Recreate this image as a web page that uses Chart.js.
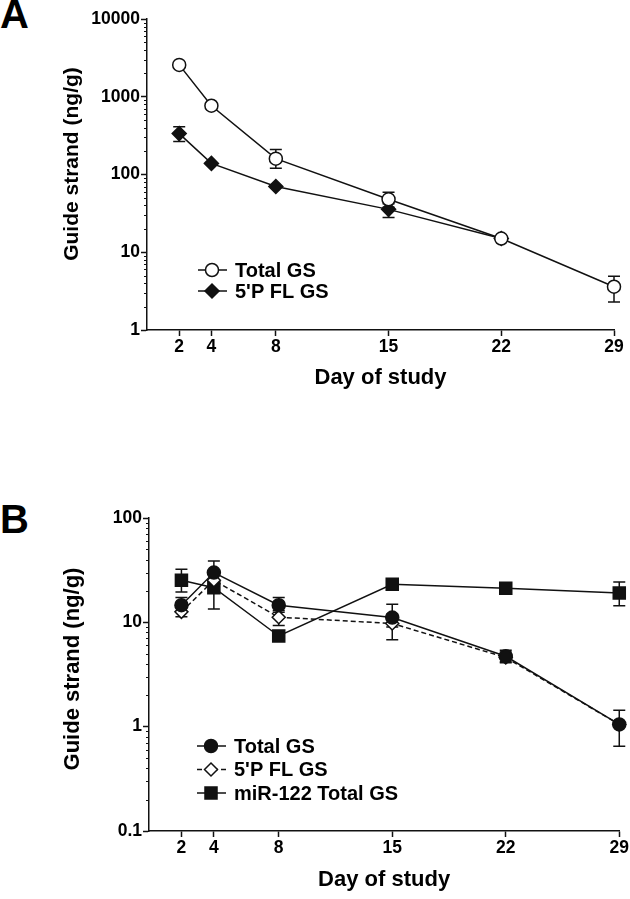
<!DOCTYPE html>
<html>
<head>
<meta charset="UTF-8">
<title>Guide strand by day of study</title>
<script src="https://cdn.jsdelivr.net/npm/chart.js"></script>
<style>
body {margin:0; background:#fff; width:630px; height:899px; position:relative; overflow:hidden}
.panel {position:absolute; left:0}
.letter {position:absolute; left:0; font-family:"Liberation Sans", Arial, sans-serif; font-weight:bold; font-size:40px; line-height:40px; color:#000}
</style>
</head>
<body>

<div class="letter" style="top:-6px">A</div>
<div class="letter" style="top:499px">B</div>
<canvas id="chartA" class="panel" style="top:0" width="630" height="420"></canvas>
<canvas id="chartB" class="panel" style="top:470px" width="630" height="429"></canvas>

<script>
// days sampled
const days = [2, 4, 8, 15, 22, 29];

// panel A (ng/g)
const aTotal   = [2570, 767, 160, 48, 15, 3.6];
const aTotalLo = [null, null, 120, 38, null, 2.3];
const aTotalHi = [null, null, 209, 59, null, 4.9];
const aFl      = [336, 139, 70, 35.6, 15, null];
const aFlLo    = [265, null, null, 28, null, null];
const aFlHi    = [412, null, null, 42, null, null];
const aTicks   = [1, 10, 100, 1000, 10000];

// panel B (ng/g)
const bTotal   = [14.6, 30, 14.6, 11.1, 4.73, 1.05];
const bTotalLo = [12.5, 22, 12.5, 9, 4.2, 0.65];
const bTotalHi = [17.3, 38.7, 17.3, 14.9, 5.4, 1.44];
const bFl      = [12.6, 25.3, 11.2, 9.75, 4.6, 1.05];
const bFlLo    = [11.3, 20, 9.3, 6.8, 4.1, null];
const bFlHi    = [14, 30, 13, 12, 5.2, null];
const bMir     = [25.3, 21.5, 7.4, 23.2, 21.2, 19.1];
const bMirLo   = [19.5, 13.4, 6.8, null, null, 14.4];
const bMirHi   = [32.3, 25, 8.1, null, null, 24.4];
const bTicks   = [0.1, 1, 10, 100];

const FONT = '"Liberation Sans", Arial, sans-serif';
const INK = '#111';

function pts(vals) {
  return days.map((d, i) => ({x: d, y: vals[i]})).filter(p => p.y != null);
}

// error bars, drawn under the markers
const errorBars = {
  id: 'errorBars',
  beforeDatasetsDraw(chart) {
    const ctx = chart.ctx, x = chart.scales.x, y = chart.scales.y;
    ctx.save();
    ctx.strokeStyle = INK;
    ctx.lineWidth = 1.5;
    chart.data.datasets.forEach(ds => {
      if (!ds.lo) return;
      days.forEach((d, i) => {
        if (ds.lo[i] == null) return;
        const px = x.getPixelForValue(d);
        const p1 = y.getPixelForValue(ds.lo[i]);
        const p2 = y.getPixelForValue(ds.hi[i]);
        ctx.beginPath();
        ctx.moveTo(px, p1); ctx.lineTo(px, p2);
        ctx.moveTo(px - 6, p1); ctx.lineTo(px + 6, p1);
        ctx.moveTo(px - 6, p2); ctx.lineTo(px + 6, p2);
        ctx.stroke();
      });
    });
    ctx.restore();
  }
};

// small ticks between decades on the log axis
const minorTicks = {
  id: 'minorTicks',
  afterDraw(chart) {
    const ctx = chart.ctx, y = chart.scales.y, left = chart.chartArea.left;
    ctx.save();
    ctx.strokeStyle = INK;
    ctx.lineWidth = 1;
    for (let e = Math.round(Math.log10(y.min)); e < Math.round(Math.log10(y.max)); e++) {
      for (let k = 2; k <= 9; k++) {
        const py = Math.round(y.getPixelForValue(k * Math.pow(10, e))) + 0.5;
        ctx.beginPath();
        ctx.moveTo(left - 3, py); ctx.lineTo(left, py);
        ctx.stroke();
      }
    }
    ctx.restore();
  }
};

// y axis title, placed a bit above the axis middle like the original
const yTitle = {
  id: 'yTitle',
  afterDraw(chart, args, opts) {
    const ctx = chart.ctx;
    ctx.save();
    ctx.translate(opts.x, opts.y);
    ctx.rotate(-Math.PI / 2);
    ctx.font = 'bold ' + opts.size + 'px ' + FONT;
    ctx.textAlign = 'center';
    ctx.textBaseline = 'middle';
    ctx.fillStyle = '#000';
    ctx.fillText(opts.text, 0, 0);
    ctx.restore();
  }
};

// legend inside plot area
const insideLegend = {
  id: 'insideLegend',
  afterDraw(chart, args, opts) {
    const ctx = chart.ctx;
    ctx.save();
    ctx.font = 'bold 20px ' + FONT;
    ctx.textBaseline = 'middle';
    ctx.fillStyle = '#000';
    chart.data.datasets.forEach((ds, i) => {
      const cy = opts.y + i * opts.row;
      ctx.strokeStyle = INK;
      ctx.lineWidth = 1.5;
      ctx.setLineDash(ds.borderDash || []);
      ctx.beginPath();
      ctx.moveTo(opts.x, cy); ctx.lineTo(opts.x + 29, cy);
      ctx.stroke();
      ctx.setLineDash([]);
      ctx.fillStyle = ds.pointBackgroundColor;
      Chart.helpers.drawPoint(ctx, {pointStyle: ds.pointStyle, radius: ds.pointRadius, rotation: 0, borderWidth: 1.5}, opts.x + 14, cy);
      ctx.fillStyle = '#000';
      ctx.fillText(ds.label, opts.x + 37, cy + 1);
    });
    ctx.restore();
  }
};

function series(label, vals, lo, hi, style, radius, fill, dash) {
  return {
    label: label, data: pts(vals), lo: lo, hi: hi,
    borderColor: INK, borderWidth: 1.5, borderDash: dash || [],
    pointStyle: style, pointRadius: radius, pointHoverRadius: radius,
    pointBackgroundColor: fill, pointBorderColor: INK, pointBorderWidth: 1.5,
    tension: 0, clip: false
  };
}

function makeOptions(yMin, yMax, yTicks, pad, xH, xTitlePad, yW) {
  return {
    responsive: false,
    devicePixelRatio: 1,
    animation: false,
    layout: {padding: pad},
    plugins: {legend: {display: false}, tooltip: {enabled: false}},
    scales: {
      x: {
        type: 'linear', min: 0, max: 29,
        afterBuildTicks: s => { s.ticks = days.map(v => ({value: v})); },
        afterFit: s => { s.height = xH; },
        ticks: {autoSkip: false, maxRotation: 0, padding: 1, color: '#000', font: {family: FONT, size: 17.5, weight: 'bold'}},
        grid: {drawOnChartArea: false, tickLength: 6, tickWidth: 1.5, tickColor: INK},
        border: {color: INK, width: 1.5},
        title: {display: true, text: 'Day of study', color: '#000', font: {family: FONT, size: 22, weight: 'bold'}, padding: {top: 0, bottom: xTitlePad}}
      },
      y: {
        type: 'logarithmic', min: yMin, max: yMax,
        afterBuildTicks: s => { s.ticks = yTicks.map(v => ({value: v})); },
        afterFit: s => { s.width = yW; },
        ticks: {padding: 1, color: '#000', font: {family: FONT, size: 17.5, weight: 'bold'}, callback: v => String(v)},
        grid: {drawOnChartArea: false, tickLength: 6, tickWidth: 1.5, tickColor: INK},
        border: {color: INK, width: 1.5}
      }
    }
  };
}

const optA = makeOptions(1, 10000, aTicks, {top: 19, right: 16, bottom: 20, left: 0}, 70, 8.8, 147);
optA.plugins.insideLegend = {x: 198, y: 270, row: 21};
optA.plugins.yTitle = {text: 'Guide strand (ng/g)', x: 72.5, y: 164, size: 21};
new Chart(document.getElementById('chartA'), {
  type: 'line',
  data: {datasets: [
    series('Total GS', aTotal, aTotalLo, aTotalHi, 'circle', 6.5, '#fff'),
    series("5'P FL GS", aFl, aFlLo, aFlHi, 'rectRot', 7, INK)
  ]},
  options: optA,
  plugins: [errorBars, minorTicks, yTitle, insideLegend]
});

const optB = makeOptions(0.1, 100, bTicks, {top: 48, right: 10, bottom: 0, left: 0}, 68, 5.4, 149);
optB.plugins.insideLegend = {x: 197, y: 276, row: 23.5};
optB.plugins.yTitle = {text: 'Guide strand (ng/g)', x: 72.5, y: 199, size: 22};
new Chart(document.getElementById('chartB'), {
  type: 'line',
  data: {datasets: [
    series('Total GS', bTotal, bTotalLo, bTotalHi, 'circle', 6.5, INK),
    series("5'P FL GS", bFl, bFlLo, bFlHi, 'rectRot', 6.5, '#fff', [5, 3]),
    series('miR-122 Total GS', bMir, bMirLo, bMirHi, 'rect', 8.5, INK)
  ]},
  options: optB,
  plugins: [errorBars, minorTicks, yTitle, insideLegend]
});
</script>
</body>
</html>
